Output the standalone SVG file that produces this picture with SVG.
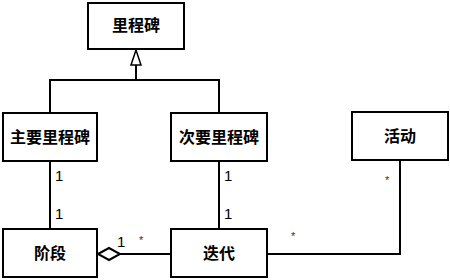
<svg xmlns="http://www.w3.org/2000/svg" width="450" height="280" viewBox="0 0 450 280">
<style>
.box{fill:#fff;stroke:#000;stroke-width:2}
.lbl{font-family:"Noto Sans CJK SC","Noto Sans CJK JP",sans-serif;font-size:16px;font-weight:bold;text-anchor:middle;fill:#000}
.m{font-family:"Liberation Sans",Arial,sans-serif;font-size:15px;fill:#000}
.s{font-family:"Liberation Sans",Arial,sans-serif;font-size:11px;fill:#333}
.ln{fill:none;stroke:#000;stroke-width:2}
</style>
<rect width="450" height="280" fill="#fff"/>
<g id="connectors">
<polyline class="ln" points="50,113 50,80 219,80 219,113"/>
<line class="ln" x1="136" y1="80" x2="136" y2="65"/>
<polygon points="136,50 131,65 141,65" fill="#fff" stroke="#000" stroke-width="1.5"/>
<line class="ln" x1="50" y1="161" x2="50" y2="229"/>
<line class="ln" x1="219" y1="161" x2="219" y2="229"/>
<polyline class="ln" points="400,160 400,254 267,254"/>
<line class="ln" x1="120" y1="254" x2="171" y2="254"/>
<polygon points="98,254 109,248 120,254 109,260" fill="#fff" stroke="#000" stroke-width="2"/>
<text class="m" x="55" y="181">1</text>
<text class="m" x="55" y="219">1</text>
<text class="m" x="224" y="181">1</text>
<text class="m" x="224" y="219">1</text>
<text class="m" x="117" y="247">1</text>
<text class="s" x="139" y="244">*</text>
<text class="s" x="385" y="184">*</text>
<text class="s" x="291" y="240">*</text>
</g>
<g id="milestone"><rect class="box" x="88" y="3" width="96" height="46"/><text class="lbl" x="136" y="31">里程碑</text></g>
<g id="major"><rect class="box" x="3" y="113" width="94" height="48"/><text class="lbl" x="50" y="143">主要里程碑</text></g>
<g id="minor"><rect class="box" x="171" y="113" width="96" height="48"/><text class="lbl" x="219" y="143">次要里程碑</text></g>
<g id="activity"><rect class="box" x="352" y="112" width="96" height="48"/><text class="lbl" x="400" y="142">活动</text></g>
<g id="phase"><rect class="box" x="3" y="229" width="94" height="48"/><text class="lbl" x="50" y="259">阶段</text></g>
<g id="iteration"><rect class="box" x="171" y="229" width="96" height="48"/><text class="lbl" x="219" y="259">迭代</text></g>
</svg>
